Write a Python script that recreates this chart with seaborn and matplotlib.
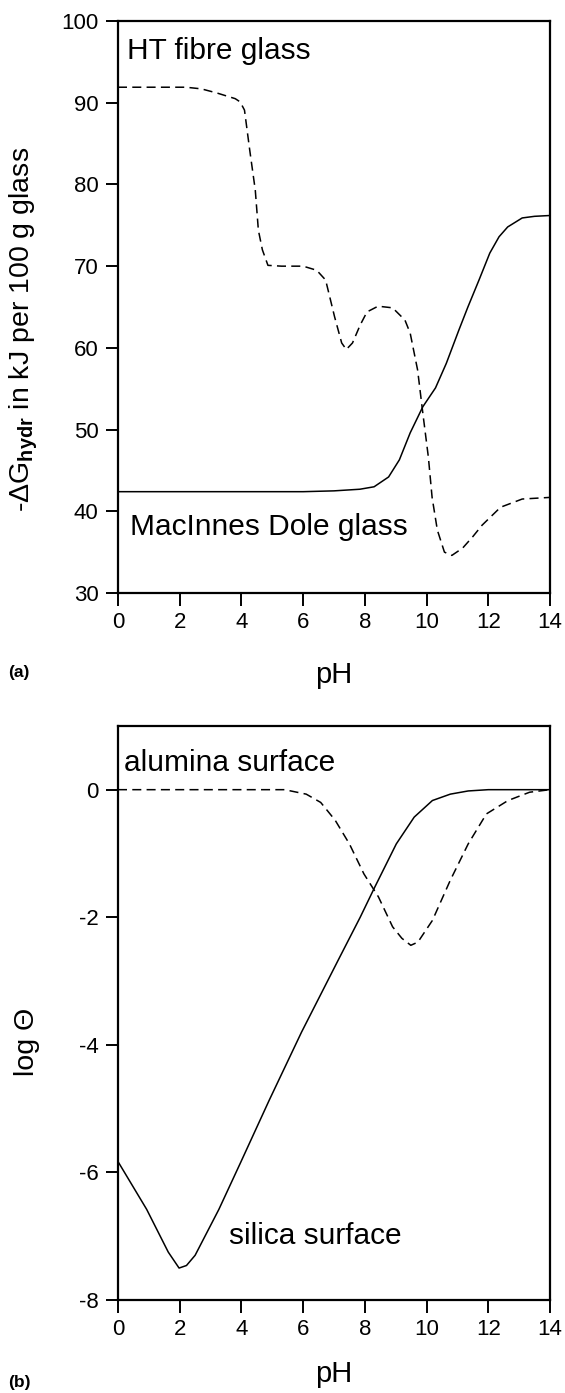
import numpy as np
import pandas as pd
import matplotlib
matplotlib.use("Agg")
import matplotlib.pyplot as plt
import seaborn as sns

# 1. STYLE
sns.set_theme(style="ticks")
plt.rcParams['font.family'] = ['Liberation Sans', 'DejaVu Sans']
plt.rcParams['mathtext.fontset'] = 'custom'
plt.rcParams['mathtext.rm'] = 'Liberation Sans'
plt.rcParams['mathtext.it'] = 'Liberation Sans:italic'
plt.rcParams['mathtext.bf'] = 'Liberation Sans:bold'
plt.rcParams['lines.scale_dashes'] = False
plt.rcParams['axes.unicode_minus'] = False
plt.rcParams['text.color'] = 'black'
plt.rcParams['axes.labelcolor'] = 'black'

# 2. DATA
# (a) HT fibre glass, dashed
ph_ht = [0.0, 1.0, 2.2, 2.7, 3.2, 3.8, 3.96, 4.1, 4.27, 4.45, 4.55, 4.68, 4.86,
         5.3, 6.0, 6.44, 6.73, 7.02, 7.25, 7.4, 7.6, 7.85, 8.07, 8.43, 8.9, 9.3,
         9.47, 9.71, 9.88, 10.06, 10.18, 10.35, 10.58, 10.82, 11.17, 11.5, 11.8,
         12.4, 13.1, 14.0]
dg_ht = [91.9, 91.9, 91.9, 91.7, 91.2, 90.5, 90.1, 89.1, 84.2, 79.3, 74.4, 72.0, 70.1,
         70.0, 70.0, 69.5, 68.3, 63.8, 60.6, 59.8, 60.6, 62.8, 64.4, 65.1, 64.9, 63.4,
         61.8, 57.3, 52.0, 46.6, 41.7, 37.7, 35.0, 34.6, 35.5, 36.9, 38.3,
         40.5, 41.5, 41.7]

# (a) MacInnes Dole glass, solid
ph_md = [0.0, 2.0, 4.0, 6.0, 7.0, 7.84, 8.3, 8.77, 9.12, 9.47, 9.88, 10.29, 10.64,
         11.05, 11.34, 11.7, 12.05, 12.35, 12.63, 13.1, 13.5, 14.0]
dg_md = [42.4, 42.4, 42.4, 42.4, 42.5, 42.7, 43.0, 44.2, 46.3, 49.6, 52.8, 55.1, 58.1,
         62.2, 65.0, 68.3, 71.6, 73.6, 74.8, 75.9, 76.1, 76.2]

# (b) alumina surface, dashed
ph_al = [0.0, 2.0, 4.0, 5.4, 6.1, 6.57, 7.04, 7.5, 7.97, 8.44, 8.9, 9.2, 9.49,
         9.72, 10.19, 10.77, 11.35, 11.94, 12.64, 13.34, 14.0]
lg_al = [0.0, 0.0, 0.0, 0.0, -0.07, -0.2, -0.48, -0.85, -1.32, -1.68, -2.15, -2.33, -2.44,
         -2.39, -2.05, -1.42, -0.85, -0.38, -0.17, -0.04, 0.0]

# (b) silica surface, solid
ph_si = [0.0, 0.93, 1.63, 1.98, 2.22, 2.5, 3.27, 3.97, 4.9, 5.95, 7.15, 7.85,
         8.32, 9.02, 9.6, 10.19, 10.77, 11.35, 12.0, 13.0, 14.0]
lg_si = [-5.83, -6.58, -7.25, -7.5, -7.46, -7.3, -6.58, -5.85, -4.87, -3.8, -2.66, -2.0,
         -1.53, -0.85, -0.43, -0.17, -0.07, -0.02, 0.0, 0.0, 0.0]

ht = pd.DataFrame({'pH': ph_ht, 'val': dg_ht})
md = pd.DataFrame({'pH': ph_md, 'val': dg_md})
al = pd.DataFrame({'pH': ph_al, 'val': lg_al})
si = pd.DataFrame({'pH': ph_si, 'val': lg_si})

# 3. FIGURE
fig = plt.figure(figsize=(5.65, 13.93), dpi=100)
ax1 = fig.add_axes([0.2088, 0.5743, 0.7646, 0.4106])
ax2 = fig.add_axes([0.2088, 0.0668, 0.7646, 0.4121])

dash = (0, (6.5, 3.8))
lw = 1.1

sns.lineplot(data=ht, x='pH', y='val', ax=ax1, color='black', lw=lw,
             linestyle=dash, sort=False, estimator=None)
sns.lineplot(data=md, x='pH', y='val', ax=ax1, color='black', lw=lw,
             sort=False, estimator=None)
sns.lineplot(data=al, x='pH', y='val', ax=ax2, color='black', lw=lw,
             linestyle=dash, sort=False, estimator=None)
sns.lineplot(data=si, x='pH', y='val', ax=ax2, color='black', lw=lw,
             sort=False, estimator=None)

for ax in (ax1, ax2):
    ax.set_xlim(0, 14)
    ax.set_xticks(np.arange(0, 15, 2))
    for s in ax.spines.values():
        s.set_linewidth(1.6)
        s.set_color('black')
        s.set_visible(True)
    ax.tick_params(direction='out', length=9, width=1.4, labelsize=16,
                   pad=5, colors='black')
    ax.tick_params(axis='x', top=False)
    ax.tick_params(axis='y', right=False)

ax1.set_xlabel('pH', fontsize=21, labelpad=20)
ax2.set_xlabel('pH', fontsize=21, labelpad=14)

ax1.set_ylim(30, 100)
ax1.set_yticks(np.arange(30, 101, 10))
ax1.set_ylabel(r'-$\Delta$G$_{\mathbf{hydr}}$ in kJ per 100 g glass', fontsize=20.5)
ax1.yaxis.set_label_coords(-0.18, 0.46)
ax1.text(0.28, 96.3, 'HT fibre glass', fontsize=21.5, va='center', ha='left')
ax1.text(0.4, 38.1, 'MacInnes Dole glass', fontsize=21.5, va='center', ha='left')

ax2.set_ylim(-8, 1)
ax2.set_yticks(np.arange(-8, 1, 2))
ax2.set_ylabel('log \u0398', fontsize=20.5)
ax2.yaxis.set_label_coords(-0.18, 0.45)
ax2.text(0.2, 0.42, 'alumina surface', fontsize=21.5, va='center', ha='left')
ax2.text(3.6, -7.0, 'silica surface', fontsize=21.5, va='center', ha='left')

fig.text(8 / 565, 1 - 672 / 1393, '(a)', fontsize=12.5, fontweight='bold', va='center')
fig.text(8 / 565, 1 - 1382 / 1393, '(b)', fontsize=12.5, fontweight='bold', va='center')

fig.savefig('out.png', dpi=100)
